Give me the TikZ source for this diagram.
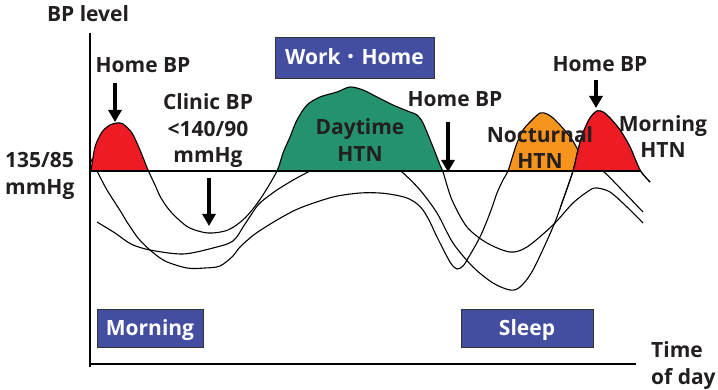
\documentclass[tikz,border=0pt]{standalone}
\usepackage{fontspec}
\setmainfont{Open Sans}
\newfontfamily\cjkfont{Noto Sans CJK JP}
\usetikzlibrary{arrows.meta}
\definecolor{txt}{HTML}{231F20}
\definecolor{hred}{HTML}{ED1C24}
\definecolor{hgreen}{HTML}{25926F}
\definecolor{horange}{HTML}{F7941D}
\definecolor{boxblue}{HTML}{434EA0}
\begin{document}
\begin{tikzpicture}[x=1pt,y=-1pt,
  lbl/.style={font=\bfseries\fontsize{21}{26.5}\selectfont, text=txt, inner sep=0pt},
  bluebox/.style={draw=black!80, line width=0.8pt, fill=boxblue, text=white,
    font=\bfseries\fontsize{21}{26}\selectfont, inner sep=0pt, text height=15pt, text depth=0pt},
  curve/.style={line width=1.1pt, line join=round},
  bigarrow/.style={line width=4pt, -{Triangle[width=13pt,length=12pt]}},
  axisline/.style={line width=1.3pt}]
\useasboundingbox (0,0) rectangle (718,390);

% orange hump fill (curve C above threshold)
\fill[horange] plot[smooth] coordinates {(508,171) (513,155) (517,143) (523,130) (530,122) (540,113) (547,114) (553,118) (560,125) (567,133) (573,141) (578,150) (585,160) (594,167) (604,171)} -- cycle;

% curve C
\draw[curve] plot[smooth] coordinates {(90,157) (94,166) (98,173) (107,190) (121,212) (127,222) (138,238) (150,250) (165,261) (187,268) (205,268) (220,266) (233,256) (240,247) (255,234) (277,220) (300,208) (333,197) (360,193) (380,193) (395,195) (407,198) (416,203) (423,210) (430,222) (437,237) (450,262) (457,269) (463,266) (467,260) (480,237) (490,213) (497,193) (503,180) (508,171) (513,155) (517,143) (523,130) (530,122) (540,113) (547,114) (553,118) (560,125) (567,133) (573,141) (578,150) (585,160) (594,167) (604,172) (620,188) (643,212)};

% curve D
\draw[curve] plot[smooth] coordinates {(97,222) (115,233) (131,244) (150,250) (183,254) (213,248) (233,241) (245,224) (258,205) (270,195) (280,188) (295,179) (310,171) (335,158) (360,153) (385,160) (402,172) (420,190) (437,213) (453,243) (473,267) (493,283) (510,290) (520,287) (533,270) (553,227) (563,200) (573,171) (578,150) (583,133) (590,118) (597,111) (603,112) (610,118) (620,130) (630,147) (640,170) (650,182)};

% red and green humps
\fill[hred] plot[smooth] coordinates {(91,171) (95,147) (102,132) (110,125) (117,123) (123,124) (132,133) (140,150) (148,171)} -- cycle;
\fill[hgreen] plot[smooth] coordinates {(277,171) (283,153) (290,137) (297,120) (307,105) (320,97) (337,92) (350,87) (363,90) (377,97) (393,105) (410,112) (417,115) (423,123) (433,147) (440,165) (443,171)} -- cycle;
\fill[hred] plot[smooth] coordinates {(573,171) (578,150) (583,133) (590,118) (597,111) (603,112) (610,118) (620,130) (630,147) (640,171)} -- cycle;

\begin{scope}
\clip (560,0) rectangle (718,390);
\draw[curve] plot[smooth] coordinates {(510,290) (520,287) (533,270) (553,227) (563,200) (573,171) (578,150) (583,133) (590,118) (597,111) (603,112) (610,118) (620,130) (630,147) (640,170) (650,182)};
\end{scope}

% curve A
\draw[curve] plot[smooth] coordinates {(91,171) (95,147) (102,132) (110,125) (117,123) (123,124) (132,133) (140,150) (148,170) (155,185) (161,198) (171,212) (188,227) (208,233) (228,230) (245,218) (261,198) (277,171) (283,153) (290,137) (297,120) (307,105) (320,97) (337,92) (350,87) (363,90) (377,97) (393,105) (410,112) (417,115) (423,123) (433,147) (440,165) (443,172) (452,200) (467,227) (487,243) (510,252) (527,247) (553,225) (573,203) (590,190) (597,188) (610,192) (627,207) (643,223)};

% axes and threshold
\draw[axisline] (90,171) -- (641,171);
\draw[axisline] (90,33) -- (90,367);
\draw[axisline] (90,364) -- (636,364);

% arrows
\coordinate (a1s) at (115,83); \coordinate (a1e) at (115,122);
\coordinate (a2s) at (209,178); \coordinate (a2e) at (209,226);
\coordinate (a3s) at (448,122); \coordinate (a3e) at (448,172);
\coordinate (a4s) at (596,80); \coordinate (a4e) at (596,108);
\draw[bigarrow] (a1s) -- (a1e);
\draw[bigarrow] (a2s) -- (a2e);
\draw[bigarrow] (a3s) -- (a3e);
\draw[bigarrow] (a4s) -- (a4e);

% labels
\node[lbl, anchor=base] (bplevel) at (88,21.5) {BP level};
\node[lbl, anchor=base] (home1) at (143,72.5) {Home BP};
\node[lbl, align=center] (clinic) at (208,131) {Clinic BP\\<140/90\\mmHg};
\node[lbl, align=left, anchor=west] (thr) at (5,176) {135/85\\mmHg};
\node[bluebox, minimum width=159pt, minimum height=41pt] (work) at (354.5,57.5) {Work{\cjkfont\mdseries ・}Home};
\node[lbl, anchor=base] (home2) at (455,106.5) {Home BP};
\node[lbl, align=center] (day) at (360,140) {Daytime\\HTN};
\node[lbl, align=center] (noct) at (540,147.7) {Nocturnal\\HTN};
\node[lbl, anchor=base] (home3) at (600,71.7) {Home BP};
\node[lbl, align=center] (morn) at (663,136.7) {Morning\\HTN};
\node[bluebox, minimum width=106pt, minimum height=38pt] (mbox) at (150,328) {Morning};
\node[bluebox, minimum width=132pt, minimum height=38pt] (sbox) at (527,328) {Sleep};
\node[lbl, align=left, anchor=west] (time) at (651,365.5) {Time\\of day};
\end{tikzpicture}
\end{document}
